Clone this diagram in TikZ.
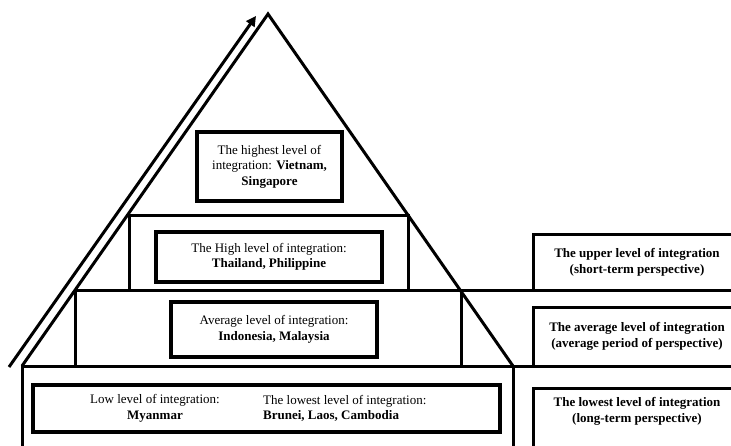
\documentclass[tikz,border=0pt]{standalone}
\usepackage{fontspec}
\setmainfont{Liberation Serif}
\usetikzlibrary{arrows.meta, positioning}

\begin{document}
\begin{tikzpicture}[x=1pt, y=-1pt,
  tier/.style={line width=3pt},
  levelbox/.style={draw, line width=3.5pt, align=center, inner sep=0pt, font=\fontsize{13}{15.5}\selectfont},
  leveltext/.style={align=center, inner sep=0pt, font=\fontsize{13}{15.5}\selectfont},
  sidebox/.style={draw, line width=3pt, minimum width=208pt, inner sep=0pt, align=center, font=\fontsize{13}{16}\selectfont\bfseries}
]
  \clip (0,0) rectangle (731,445);
  % pyramid
  \coordinate (apex) at (268,14);
  \coordinate (baseL) at (22,366);
  \coordinate (baseR) at (513,366);
  \draw[tier] (baseL) -- (apex) -- (baseR);
  \draw[tier] (129,290) -- (129,215) -- (408,215) -- (408,290);
  \draw[tier] (75,366) -- (75,290) -- (740,290);
  \draw[tier] (461,290) -- (461,366);
  \draw[tier] (22,450) -- (baseL) -- (740,366);
  \draw[tier] (baseR) -- (513,450);
  % growth arrow along the left side
  \coordinate (arrowfoot) at (9,367);
  \coordinate (arrowtip) at (256,16);
  \draw[tier, -{Triangle[length=10pt,width=10pt]}] (arrowfoot) -- (arrowtip);

  % levels inside the pyramid
  \node[levelbox, minimum width=145pt, minimum height=69pt] (highest) at (269.5,166.5)
    {The highest level of\\integration: \textbf{Vietnam,}\\\textbf{Singapore}};
  \node[levelbox, minimum width=226pt, minimum height=50pt] (high) at (269,257)
    {The High level of integration:\\\textbf{Thailand, Philippine}};
  \node[levelbox, minimum width=206pt, minimum height=55pt] (average) at (274,329.5)
    {Average level of integration:\\\textbf{Indonesia, Malaysia}};
  \node[levelbox, minimum width=467pt, minimum height=47pt] (low) at (266.5,408.5) {};
  \node[leveltext] (lowtext) at (155,408.5)
    {Low level of integration:\\\textbf{Myanmar}};
  \node[leveltext, align=left, anchor=west] (lowesttext) at (263,408.5)
    {The lowest level of integration:\\\textbf{Brunei, Laos, Cambodia}};

  % perspectives on the right
  \node[sidebox, minimum height=56pt] (upperside) at (637,262)
    {The upper level of integration\\(short-term perspective)};
  \node[sidebox, minimum height=59pt] (averageside) at (637,336.5)
    {The average level of integration\\(average period of perspective)};
  \node[sidebox, minimum height=80pt, anchor=north] (lowside) at (637,387) {};
  \node[sidebox, draw=none, minimum width=0pt, below=9pt of lowside.north] (lowsidetext)
    {The lowest level of integration\\(long-term perspective)};
\end{tikzpicture}
\end{document}
